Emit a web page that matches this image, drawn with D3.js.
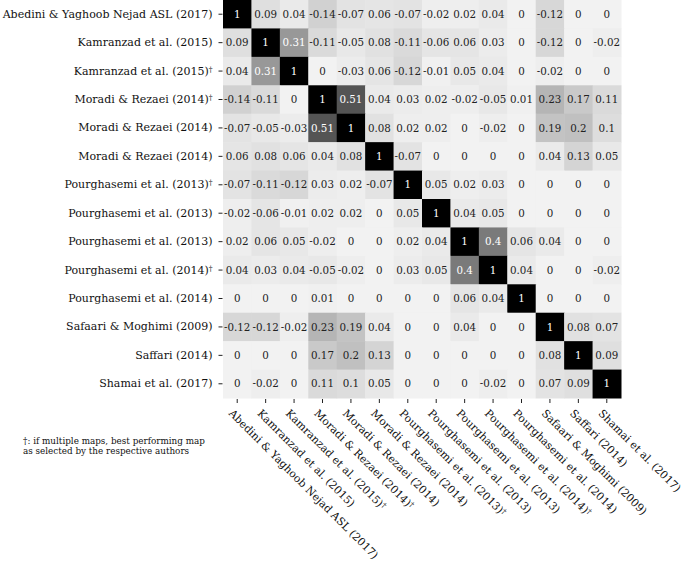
<!DOCTYPE html>
<html>
<head>
<meta charset="utf-8">
<script src="https://cdn.jsdelivr.net/npm/d3@7"></script>
<style>
  body { margin: 0; background: #fff; }
  svg { display: block; }
  text { font-family: "DejaVu Serif", serif; }
</style>
</head>
<body>
<div id="chart"></div>
<script>
// study labels (dagger marks best performing map)
var labels = [
  "Abedini & Yaghoob Nejad ASL (2017)",
  "Kamranzad et al. (2015)",
  "Kamranzad et al. (2015)",
  "Moradi & Rezaei (2014)",
  "Moradi & Rezaei (2014)",
  "Moradi & Rezaei (2014)",
  "Pourghasemi et al. (2013)",
  "Pourghasemi et al. (2013)",
  "Pourghasemi et al. (2013)",
  "Pourghasemi et al. (2014)",
  "Pourghasemi et al. (2014)",
  "Safaari & Moghimi (2009)",
  "Saffari (2014)",
  "Shamai et al. (2017)"
];
var dagger = [false, false, true, true, false, false, true, false, false, true, false, false, false, false];

var corr = [
  [1, 0.09, 0.04, -0.14, -0.07, 0.06, -0.07, -0.02, 0.02, 0.04, 0, -0.12, 0, 0],
  [0.09, 1, 0.31, -0.11, -0.05, 0.08, -0.11, -0.06, 0.06, 0.03, 0, -0.12, 0, -0.02],
  [0.04, 0.31, 1, 0, -0.03, 0.06, -0.12, -0.01, 0.05, 0.04, 0, -0.02, 0, 0],
  [-0.14, -0.11, 0, 1, 0.51, 0.04, 0.03, 0.02, -0.02, -0.05, 0.01, 0.23, 0.17, 0.11],
  [-0.07, -0.05, -0.03, 0.51, 1, 0.08, 0.02, 0.02, 0, -0.02, 0, 0.19, 0.2, 0.1],
  [0.06, 0.08, 0.06, 0.04, 0.08, 1, -0.07, 0, 0, 0, 0, 0.04, 0.13, 0.05],
  [-0.07, -0.11, -0.12, 0.03, 0.02, -0.07, 1, 0.05, 0.02, 0.03, 0, 0, 0, 0],
  [-0.02, -0.06, -0.01, 0.02, 0.02, 0, 0.05, 1, 0.04, 0.05, 0, 0, 0, 0],
  [0.02, 0.06, 0.05, -0.02, 0, 0, 0.02, 0.04, 1, 0.4, 0.06, 0.04, 0, 0],
  [0.04, 0.03, 0.04, -0.05, -0.02, 0, 0.03, 0.05, 0.4, 1, 0.04, 0, 0, -0.02],
  [0, 0, 0, 0.01, 0, 0, 0, 0, 0.06, 0.04, 1, 0, 0, 0],
  [-0.12, -0.12, -0.02, 0.23, 0.19, 0.04, 0, 0, 0.04, 0, 0, 1, 0.08, 0.07],
  [0, 0, 0, 0.17, 0.2, 0.13, 0, 0, 0, 0, 0, 0.08, 1, 0.09],
  [0, -0.02, 0, 0.11, 0.1, 0.05, 0, 0, 0, -0.02, 0, 0.07, 0.09, 1]
];

var footnote = ["\u2020: if multiple maps, best performing map", "as selected by the respective authors"];

var W = 685, H = 565;
var margin = {top: 0, left: 223, right: 64, bottom: 167};

var svg = d3.select("#chart").append("svg")
  .attr("width", W).attr("height", H);

var idx = d3.range(labels.length);
var x = d3.scaleBand().domain(idx).range([margin.left, W - margin.right]);
var y = d3.scaleBand().domain(idx).range([margin.top, H - margin.bottom]);

// grey level by absolute correlation
var grey = d3.scaleLinear()
  .domain([0, 0.1, 0.2, 0.3, 0.4, 0.5, 0.75])
  .range([242, 221, 192, 155, 122, 88, 0])
  .clamp(true);
function fill(v) { var g = Math.round(grey(Math.abs(v))); return d3.rgb(g, g, g); }

var cells = [];
corr.forEach(function(row, i) {
  row.forEach(function(v, j) { cells.push({r: i, c: j, v: v}); });
});

var g = svg.append("g");
g.selectAll("rect")
  .data(cells)
  .enter().append("rect")
  .attr("x", function(d) { return x(d.c); })
  .attr("y", function(d) { return y(d.r); })
  .attr("width", x.bandwidth() + 0.5)
  .attr("height", y.bandwidth() + 0.5)
  .attr("fill", function(d) { return fill(d.v); });

g.selectAll("text")
  .data(cells)
  .enter().append("text")
  .attr("x", function(d) { return x(d.c) + x.bandwidth() / 2; })
  .attr("y", function(d) { return y(d.r) + y.bandwidth() / 2; })
  .attr("dy", "0.36em")
  .attr("text-anchor", "middle")
  .style("font-size", "10.3px")
  .attr("fill", function(d) { return Math.abs(d.v) > 0.3 ? "#fff" : "#222"; })
  .text(function(d) { return String(d.v); });

// y axis
var yAxis = d3.axisLeft(y).tickSize(4).tickPadding(6).tickFormat(function() { return ""; });
var ya = svg.append("g")
  .attr("transform", "translate(" + (margin.left - 0.5) + ",0)")
  .call(yAxis)
  .attr("font-family", null);
ya.select(".domain").remove();
ya.selectAll("line").attr("stroke", "#222");
ya.selectAll(".tick text").each(function(i) {
  var t = d3.select(this)
    .style("font-size", "11px")
    .attr("fill", "#111");
  t.append("tspan").text(labels[i]);
  if (dagger[i]) t.append("tspan").attr("dy", "-0.4em").style("font-size", "7.5px").text("\u2020");
});

// x axis
var xAxis = d3.axisBottom(x).tickSize(4).tickFormat(function() { return ""; });
var xa = svg.append("g")
  .attr("transform", "translate(0," + (H - margin.bottom + 1) + ")")
  .call(xAxis)
  .attr("font-family", null);
xa.select(".domain").remove();
xa.selectAll("line").attr("stroke", "#222");
xa.selectAll(".tick text").each(function(i) {
  var t = d3.select(this)
    .attr("y", 0)
    .attr("x", 0)
    .attr("dy", 0)
    .attr("text-anchor", "start")
    .attr("transform", "translate(-9,15) rotate(45)")
    .style("font-size", "10.8px")
    .attr("fill", "#111");
  t.append("tspan").text(labels[i]);
  if (dagger[i]) t.append("tspan").attr("dy", "-0.4em").style("font-size", "7.5px").text("\u2020");
});

// footnote
svg.append("g")
  .selectAll("text")
  .data(footnote)
  .enter().append("text")
  .attr("x", 23)
  .attr("y", function(d, i) { return 444 + i * 10; })
  .style("font-size", "8.8px")
  .attr("fill", "#111")
  .text(function(d) { return d; });
</script>
</body>
</html>
